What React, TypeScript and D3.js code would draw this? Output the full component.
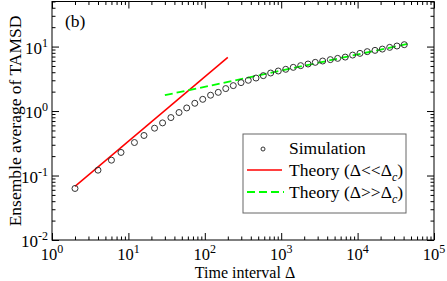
import React, { useRef, useEffect } from 'react';
import * as d3 from 'd3';

// simulation points (Delta, ensemble averaged TAMSD)
const simX = [2, 4, 6, 8, 12, 16, 22, 28, 36, 46, 58, 74, 94, 119, 150, 188, 236, 298, 371, 468,
  583, 728, 916, 1146, 1439, 1799, 2244, 2793, 3491, 4395, 5483, 6887, 8610, 10740, 13370, 16900,
  21090, 26300, 32730, 40830];
const simY = [0.063, 0.121, 0.173, 0.228, 0.325, 0.418, 0.542, 0.655, 0.792, 0.949, 1.117, 1.32,
  1.52, 1.76, 1.95, 2.23, 2.48, 2.76, 3.0, 3.25, 3.54, 3.89, 4.18, 4.44, 4.76, 5.06, 5.36, 5.69,
  5.97, 6.27, 6.56, 6.87, 7.38, 7.85, 8.34, 8.73, 9.14, 9.72, 10.2, 10.7];

// theory, short times (slope 1)
const shortX = [2, 200];
const shortY = [0.068, 6.8];
// theory, long times (slope 1/4)
const longX = [30, 50000];
const longY = [1.76, 11.3];

const xMajor = [0, 1, 2, 3, 4, 5];
const yMajor = [-2, -1, 0, 1];

const FONT = "'Liberation Serif', 'Times New Roman', serif";

const App = () => {
  const ref = useRef<SVGSVGElement>(null);

  useEffect(() => {
    const width = 447;
    const height = 281;
    const left = 52, right = 434, top = 1.5, bottom = 240;

    const svg = d3.select(ref.current);
    svg.selectAll('*').remove();
    svg.attr('width', width).attr('height', height);

    const x = d3.scaleLog().domain([1, 1e5]).range([left, right]);
    const y = d3.scaleLog().domain([0.01, 50]).range([bottom, top]);

    const majX = xMajor.map(e => Math.pow(10, e));
    const majY = yMajor.map(e => Math.pow(10, e));
    const minX = x.ticks().filter(t => !majX.some(m => Math.abs(m - t) / m < 1e-9));
    const minY = y.ticks().filter(t => !majY.some(m => Math.abs(m - t) / m < 1e-9));

    const axes = svg.append('g');
    const mk = (g, axis) => {
      const s = axes.append('g').attr('transform', g).call(axis);
      s.select('.domain').remove();
      s.selectAll('text').remove();
      s.selectAll('line').attr('stroke', '#000');
    };
    // bottom / top
    mk(`translate(0,${bottom})`, d3.axisBottom(x).tickValues(majX).tickSize(-7));
    mk(`translate(0,${bottom})`, d3.axisBottom(x).tickValues(minX).tickSize(-3.5));
    mk(`translate(0,${top})`, d3.axisTop(x).tickValues(majX).tickSize(-7));
    mk(`translate(0,${top})`, d3.axisTop(x).tickValues(minX).tickSize(-3.5));
    // left / right
    mk(`translate(${left},0)`, d3.axisLeft(y).tickValues(majY).tickSize(-7));
    mk(`translate(${left},0)`, d3.axisLeft(y).tickValues(minY).tickSize(-3.5));
    mk(`translate(${right},0)`, d3.axisRight(y).tickValues(majY).tickSize(-7));
    mk(`translate(${right},0)`, d3.axisRight(y).tickValues(minY).tickSize(-3.5));

    // frame
    svg.append('rect')
      .attr('x', left).attr('y', top)
      .attr('width', right - left).attr('height', bottom - top)
      .attr('fill', 'none').attr('stroke', '#000').attr('stroke-width', 1);

    // tick labels
    xMajor.forEach(e => {
      const t = svg.append('text')
        .attr('x', x(Math.pow(10, e))).attr('y', 259.5)
        .attr('text-anchor', 'middle')
        .attr('font-family', FONT).attr('font-size', 16.5);
      t.append('tspan').text('10');
      t.append('tspan').attr('dy', -7).attr('font-size', 12).text(String(e));
    });
    yMajor.forEach(e => {
      const t = svg.append('text')
        .attr('x', 48).attr('y', y(Math.pow(10, e)) + 7)
        .attr('text-anchor', 'end')
        .attr('font-family', FONT).attr('font-size', 17);
      t.append('tspan').text('10');
      t.append('tspan').attr('dy', -7).attr('font-size', 12).text(String(e));
    });

    // axis titles
    svg.append('text')
      .attr('x', 245).attr('y', 277.5)
      .attr('text-anchor', 'middle')
      .attr('font-family', FONT).attr('font-size', 16)
      .text('Time interval Δ');
    svg.append('text')
      .attr('transform', 'translate(20.5,121) rotate(-90)')
      .attr('text-anchor', 'middle')
      .attr('font-family', FONT).attr('font-size', 17.5)
      .text('Ensemble average of TAMSD');
    svg.append('text')
      .attr('x', 65).attr('y', 27)
      .attr('font-family', FONT).attr('font-size', 17.5)
      .text('(b)');

    const line = d3.line<number>()
      .x(d => x(d[0]))
      .y(d => y(d[1]));

    const plot = svg.append('g');
    plot.append('path')
      .datum(d3.zip(shortX, shortY))
      .attr('fill', 'none').attr('stroke', '#ff0000').attr('stroke-width', 1.5)
      .attr('d', line);
    plot.append('path')
      .datum(d3.zip(longX, longY))
      .attr('fill', 'none').attr('stroke', '#00ff00').attr('stroke-width', 1.8)
      .attr('stroke-dasharray', '8,4')
      .attr('d', line);

    plot.selectAll('circle')
      .data(d3.zip(simX, simY))
      .enter().append('circle')
      .attr('cx', d => x(d[0]))
      .attr('cy', d => y(d[1]))
      .attr('r', 3)
      .attr('fill', 'none')
      .attr('stroke', '#333')
      .attr('stroke-width', 1);

    // legend
    const lg = svg.append('g');
    lg.append('rect')
      .attr('x', 243).attr('y', 134).attr('width', 163).attr('height', 79)
      .attr('fill', '#fff').attr('stroke', '#666').attr('stroke-width', 1);
    lg.append('circle')
      .attr('cx', 263).attr('cy', 149).attr('r', 2)
      .attr('fill', 'none').attr('stroke', '#333').attr('stroke-width', 1);
    lg.append('line')
      .attr('x1', 247).attr('x2', 282).attr('y1', 170).attr('y2', 170)
      .attr('stroke', '#ff0000').attr('stroke-width', 1.5);
    lg.append('line')
      .attr('x1', 247).attr('x2', 284).attr('y1', 192).attr('y2', 192)
      .attr('stroke', '#00ff00').attr('stroke-width', 1.8).attr('stroke-dasharray', '8,4');

    lg.append('text')
      .attr('x', 289).attr('y', 154)
      .attr('font-family', FONT).attr('font-size', 17.5)
      .text('Simulation');
    const legendTheory = (yy, rel) => {
      const t = lg.append('text')
        .attr('x', 289).attr('y', yy)
        .attr('font-family', FONT).attr('font-size', 17.5);
      t.append('tspan').text(`Theory (Δ${rel}Δ`);
      t.append('tspan').attr('dy', 5).attr('font-size', 12).attr('font-style', 'italic').text('c');
      t.append('tspan').attr('dy', -5).text(')');
    };
    legendTheory(176, '<<');
    legendTheory(198, '>>');
  }, []);

  return (
    <div id='chart'>
      <svg ref={ref} style={{ position: 'absolute', left: 0, top: 0, display: 'block' }}></svg>
    </div>
  );
};

export default App;
